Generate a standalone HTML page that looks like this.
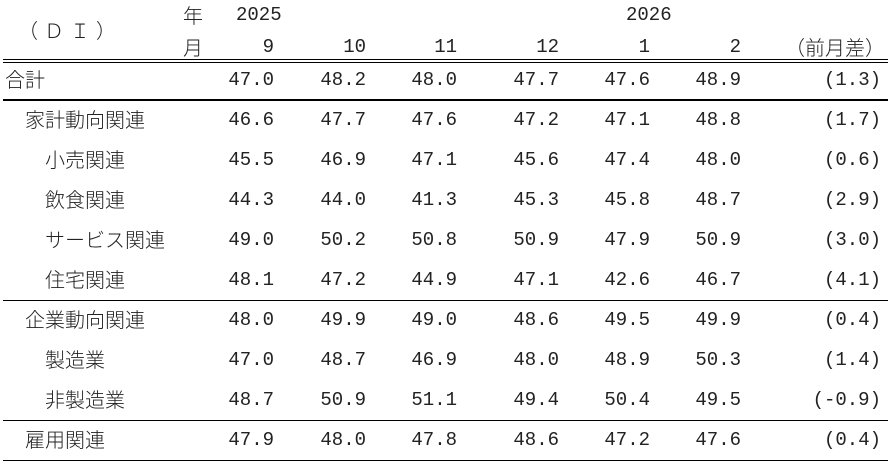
<!DOCTYPE html>
<html><head><meta charset="utf-8"><style>
body{margin:0;width:891px;height:468px;background:#fff;position:relative;overflow:hidden;font-family:"Liberation Mono","Noto Sans CJK JP",monospace;color:#222}
.t{position:absolute;font-size:19px;line-height:22px;white-space:nowrap}
.j{font-family:"Noto Sans CJK JP",sans-serif;font-size:20px;font-weight:300}
.n{text-align:right;width:80px}
.h{position:absolute;left:3px;width:885px;background:#000}
</style></head><body>
<div class="t j" style="left:18px;top:19px;letter-spacing:6px">（ＤＩ）</div>
<div class="t j" style="left:183px;top:4px">年</div>
<div class="t j" style="left:183px;top:36px">月</div>
<div class="t" style="left:236px;top:4px">2025</div>
<div class="t" style="left:626px;top:4px">2026</div>
<div class="t j" style="left:785px;top:36px;width:100px;text-align:right">（前月差）</div>
<div class="h" style="top:59px;height:1px"></div>
<div class="h" style="top:62px;height:1px"></div>
<div class="h" style="top:99px;height:2px"></div>
<div class="h" style="top:300px;height:1px"></div>
<div class="h" style="top:420px;height:1px"></div>
<div class="h" style="top:460px;height:1px"></div>
<div id="g"></div>
<script>
var cols=[274,366,457,559,650,741];
var hdr=["9","10","11","12","1","2"];
var out="";
hdr.forEach(function(v,i){out+='<div class="t n" style="left:'+(cols[i]-80)+'px;top:36px">'+v+'</div>';});
var rows=[
["合計",5,["47.0","48.2","48.0","47.7","47.6","48.9"],"(1.3)"],
["家計動向関連",25,["46.6","47.7","47.6","47.2","47.1","48.8"],"(1.7)"],
["小売関連",45,["45.5","46.9","47.1","45.6","47.4","48.0"],"(0.6)"],
["飲食関連",45,["44.3","44.0","41.3","45.3","45.8","48.7"],"(2.9)"],
["サービス関連",45,["49.0","50.2","50.8","50.9","47.9","50.9"],"(3.0)"],
["住宅関連",45,["48.1","47.2","44.9","47.1","42.6","46.7"],"(4.1)"],
["企業動向関連",25,["48.0","49.9","49.0","48.6","49.5","49.9"],"(0.4)"],
["製造業",45,["47.0","48.7","46.9","48.0","48.9","50.3"],"(1.4)"],
["非製造業",45,["48.7","50.9","51.1","49.4","50.4","49.5"],"(-0.9)"],
["雇用関連",25,["47.9","48.0","47.8","48.6","47.2","47.6"],"(0.4)"]];
rows.forEach(function(r,k){var y=69+k*40;
out+='<div class="t j" style="left:'+r[1]+'px;top:'+(y-1)+'px">'+r[0]+'</div>';
r[2].forEach(function(v,i){out+='<div class="t n" style="left:'+(cols[i]-80)+'px;top:'+y+'px">'+v+'</div>';});
out+='<div class="t n" style="left:801px;top:'+y+'px">'+r[3]+'</div>';});
document.getElementById("g").innerHTML=out;
</script>
</body></html>
